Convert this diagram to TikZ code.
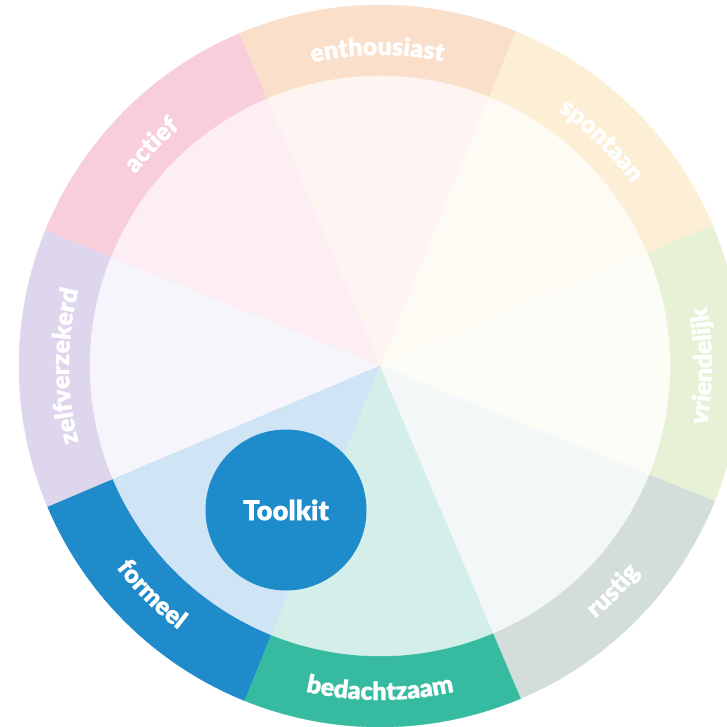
\documentclass[tikz,border=0pt]{standalone}
\usepackage{fontspec}
\usetikzlibrary{decorations.text}
\newfontfamily\lblfont{Lato Black}[FakeBold=0.8]
\definecolor{vrR}{HTML}{E6F1D6}\definecolor{vrI}{HTML}{FCFDF6}
\definecolor{spR}{HTML}{FCEFD5}\definecolor{spI}{HTML}{FEFBF5}
\definecolor{enR}{HTML}{FADFCB}\definecolor{enI}{HTML}{FEF5F3}
\definecolor{acR}{HTML}{F7CEDA}\definecolor{acI}{HTML}{FDEEF3}
\definecolor{zeR}{HTML}{DDD6ED}\definecolor{zeI}{HTML}{F5F5FB}
\definecolor{foR}{HTML}{1F8BCB}\definecolor{foI}{HTML}{CFE4F4}
\definecolor{beR}{HTML}{36BBA0}\definecolor{beI}{HTML}{D4EFE9}
\definecolor{ruR}{HTML}{D3DEDB}\definecolor{ruI}{HTML}{F3F7F7}
\definecolor{tkblue}{HTML}{1E8BCB}
\tikzset{
  cwlabel/.style={decorate, decoration={text along path, text align=center,
    text={|\lblfont\fontsize{25}{28}\selectfont\color{white}|#1}}},
  ccwlabel/.style={decorate, decoration={text along path, text align=center,
    text={|\lblfont\fontsize{25}{28}\selectfont\color{white}|#1}}},
  hub/.style={circle, fill=tkblue, minimum size=161, inner sep=0pt, text=white,
    font=\lblfont\fontsize{27.5}{31}\selectfont}
}
\begin{document}
\begin{tikzpicture}[x=1pt,y=1pt]
\useasboundingbox (0,0) rectangle (727,726);
\clip (0,0) rectangle (727,726);
\begin{scope}[shift={(380,360)}]
  \def\Ro{361}\def\Ri{290}
  \foreach \s/\r/\i in {-22/vrR/vrI, 23/spR/spI, 68/enR/enI, 113/acR/acI,
                         158/zeR/zeI, 203/foR/foI, 248/beR/beI, 293/ruR/ruI}{
    \fill[\r, draw=\r, line width=0.4pt] (0,0) -- (\s:\Ro) arc[start angle=\s, end angle=\s+45, radius=\Ro] -- cycle;
  }
  \foreach \s/\r/\i in {-22/vrR/vrI, 23/spR/spI, 68/enR/enI, 113/acR/acI,
                         158/zeR/zeI, 203/foR/foI, 248/beR/beI, 293/ruR/ruI}{
    \fill[\i, draw=\i, line width=0.4pt] (0,0) -- (\s:\Ri) arc[start angle=\s, end angle=\s+45, radius=\Ri] -- cycle;
  }
  % clockwise labels (tops outward)
  \path[cwlabel=spontaan] (95.5:311) arc[start angle=95.5, end angle=-4.5, radius=311];
  \path[cwlabel=enthousiast] (140.5:311) arc[start angle=140.5, end angle=40.5, radius=311];
  \path[cwlabel=actief] (186:311) arc[start angle=186, end angle=86, radius=311];
  \path[cwlabel=zelfverzekerd] (230:311) arc[start angle=230, end angle=130, radius=311];
  % counter-clockwise labels (tops inward)
  \path[ccwlabel=vriendelijk] (-50:332) arc[start angle=-50, end angle=50, radius=332];
  \path[ccwlabel=rustig] (266:332) arc[start angle=266, end angle=366, radius=332];
  \path[ccwlabel=bedachtzaam] (220:334) arc[start angle=220, end angle=320, radius=334];
  \path[ccwlabel=formeel] (175:332) arc[start angle=175, end angle=275, radius=332];
  \node[hub] (toolkit) at (-94,-144) {Toolkit};
\end{scope}
\end{tikzpicture}
\end{document}
